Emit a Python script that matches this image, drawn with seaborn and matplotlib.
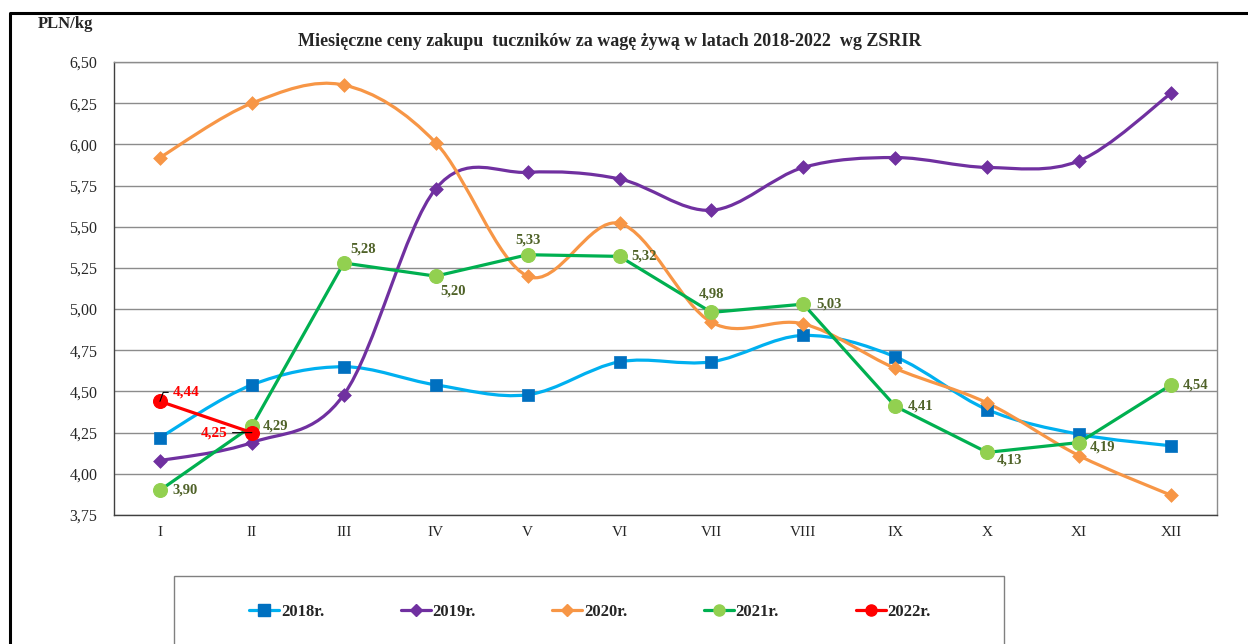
import numpy as np
import pandas as pd
import matplotlib.pyplot as plt
import seaborn as sns
from matplotlib.path import Path
from matplotlib.patches import PathPatch, Rectangle
from matplotlib.lines import Line2D
from matplotlib.ticker import FuncFormatter

months = ["I", "II", "III", "IV", "V", "VI", "VII", "VIII", "IX", "X", "XI", "XII"]
p2018 = [4.22, 4.54, 4.65, 4.54, 4.48, 4.68, 4.68, 4.84, 4.71, 4.39, 4.24, 4.17]
p2019 = [4.08, 4.19, 4.48, 5.73, 5.83, 5.79, 5.60, 5.86, 5.92, 5.86, 5.90, 6.31]
p2020 = [5.92, 6.25, 6.36, 6.01, 5.20, 5.52, 4.92, 4.91, 4.64, 4.43, 4.11, 3.87]
p2021 = [3.90, 4.29, 5.28, 5.20, 5.33, 5.32, 4.98, 5.03, 4.41, 4.13, 4.19, 4.54]
p2022 = [4.44, 4.25]

# label offsets (pixels) for the 2021 data labels
off2021 = [(12, 0), (11, 0), (7, 14), (5, -15), (0, 15), (12, 0),
           (0, 18), (13, 0), (12, 0), (10, -8), (11, -4), (12, 0)]


def smooth_path(xs, ys):
    # Excel-like smoothed line (Catmull-Rom as cubic Bezier)
    pts = np.column_stack([xs, ys]).astype(float)
    n = len(pts)
    verts = [pts[0]]
    codes = [Path.MOVETO]
    for i in range(n - 1):
        p0 = pts[max(i - 1, 0)]
        p1 = pts[i]
        p2 = pts[i + 1]
        p3 = pts[min(i + 2, n - 1)]
        verts += [p1 + (p2 - p0) / 6, p2 - (p3 - p1) / 6, p2]
        codes += [Path.CURVE4] * 3
    return Path(verts, codes)


def fmt(v):
    return f"{v:.2f}".replace(".", ",")


sns.set_style("white")
plt.rcParams["font.family"] = ["Liberation Serif", "DejaVu Serif"]

fig = plt.figure(figsize=(12.48, 6.44), dpi=100)
ax = fig.add_axes([114 / 1248, 1 - 515 / 644, 1103 / 1248, 453 / 644])

x = np.arange(12)
grid_c = "#8c8c8c"

smooth = [
    ("2018r.", p2018, "#00B0F0", "#0070C0", "s", 9),
    ("2019r.", p2019, "#7030A0", "#7030A0", "D", 7),
    ("2020r.", p2020, "#F79646", "#F79646", "D", 7),
]
handles = []
for name, vals, lc, mc, mk, ms in smooth:
    ax.add_patch(PathPatch(smooth_path(x, vals), fill=False, edgecolor=lc, lw=2.3,
                           capstyle="round", zorder=3))
    sns.scatterplot(x=x, y=vals, marker=mk, s=ms ** 2, color=mc, edgecolor=mc,
                    linewidth=0.5, ax=ax, zorder=4, legend=False)
    handles.append(Line2D([], [], color=lc, lw=2.3, marker=mk, markersize=ms - 1,
                          markerfacecolor=mc, markeredgecolor=mc, label=name))

df21 = pd.DataFrame({"m": x, "v": p2021})
sns.lineplot(data=df21, x="m", y="v", color="#00B050", lw=2.3, ax=ax, zorder=5)
sns.scatterplot(data=df21, x="m", y="v", color="#92D050", edgecolor="#92D050",
                s=100, ax=ax, zorder=6, legend=False)
handles.append(Line2D([], [], color="#00B050", lw=2.3, marker="o", markersize=8,
                      markerfacecolor="#92D050", markeredgecolor="#92D050", label="2021r."))

df22 = pd.DataFrame({"m": x[:len(p2022)], "v": p2022})
sns.lineplot(data=df22, x="m", y="v", color="#FF0000", lw=2.3, ax=ax, zorder=7)
sns.scatterplot(data=df22, x="m", y="v", color="#FF0000", edgecolor="#FF0000",
                s=100, ax=ax, zorder=8, legend=False)
handles.append(Line2D([], [], color="#FF0000", lw=2.3, marker="o", markersize=8,
                      markerfacecolor="#FF0000", markeredgecolor="#FF0000", label="2022r."))

for i, v in enumerate(p2021):
    dx, dy = off2021[i]
    ha = "center" if dx == 0 else "left"
    ax.annotate(fmt(v), (i, v), xytext=(dx, dy), textcoords="offset pixels",
                ha=ha, va="center", fontsize=10.5, fontweight="bold",
                color="#4F6228", zorder=9)

ax.annotate(fmt(p2022[0]), (0, p2022[0]), xytext=(13, 9), textcoords="offset pixels",
            ha="left", va="center", fontsize=11, fontweight="bold", color="#FF0000",
            zorder=9, arrowprops=dict(arrowstyle="-", color="black", lw=0.8,
                                      shrinkA=1, shrinkB=0, relpos=(0, 0.5),
                                      connectionstyle="angle,angleA=180,angleB=70"))
ax.annotate(fmt(p2022[1]), (1, p2022[1]), xytext=(-24, 0), textcoords="offset pixels",
            ha="right", va="center", fontsize=11, fontweight="bold", color="#FF0000",
            zorder=9, arrowprops=dict(arrowstyle="-", color="black", lw=0.8,
                                      shrinkA=1, shrinkB=0, relpos=(1, 0.5)))

ax.set_xlim(-0.5, 11.5)
ax.set_ylim(3.75, 6.5)
ax.set_yticks(np.arange(3.75, 6.51, 0.25))
ax.yaxis.set_major_formatter(FuncFormatter(lambda v, p: fmt(v)))
ax.set_xticks(np.arange(-0.5, 12, 1))
ax.set_xticklabels([])
ax.set_xticks(x, minor=True)
ax.set_xticklabels(months, minor=True)
ax.tick_params(axis="x", which="major", direction="out", length=5, width=1, color="#555555")
ax.tick_params(axis="x", which="minor", length=0, pad=8, labelsize=11)
ax.tick_params(axis="y", direction="out", length=5, width=1, color="#555555",
               pad=7, labelsize=11.5)
ax.set_xlabel("")
ax.set_ylabel("")
ax.yaxis.grid(True, color=grid_c, lw=1)
ax.set_axisbelow(True)
for s in ["left", "bottom"]:
    ax.spines[s].set_color("#404040")
    ax.spines[s].set_linewidth(1)
for s in ["right", "top"]:
    ax.spines[s].set_color(grid_c)
    ax.spines[s].set_linewidth(1)

fig.text(610 / 1248, 1 - 41 / 644, "Miesięczne ceny zakupu  tuczników za wagę żywą w latach 2018-2022  wg ZSRIR",
         ha="center", va="center", fontsize=13, fontweight="bold")
fig.text(38 / 1248, 1 - 24 / 644, "PLN/kg", ha="left", va="center", fontsize=12,
         fontweight="bold")

# outer frame (left and top edges)
fig.add_artist(Line2D([10 / 1248, 10 / 1248, 1], [0, 1 - 13 / 644, 1 - 13 / 644],
                      color="black", lw=2.2))
# legend box
fig.add_artist(Rectangle((174 / 1248, -0.05), 830 / 1248, 0.05 + 68 / 644, fill=False,
                         edgecolor="#808080", lw=1, transform=fig.transFigure))
fig.legend(handles=handles, loc="center", bbox_to_anchor=(590 / 1248, 1 - 612 / 644),
           ncol=5, frameon=False, handlelength=1.8, handletextpad=0.1, columnspacing=4.6,
           prop={"weight": "bold", "size": 12})

plt.savefig("out.png", dpi=100)
